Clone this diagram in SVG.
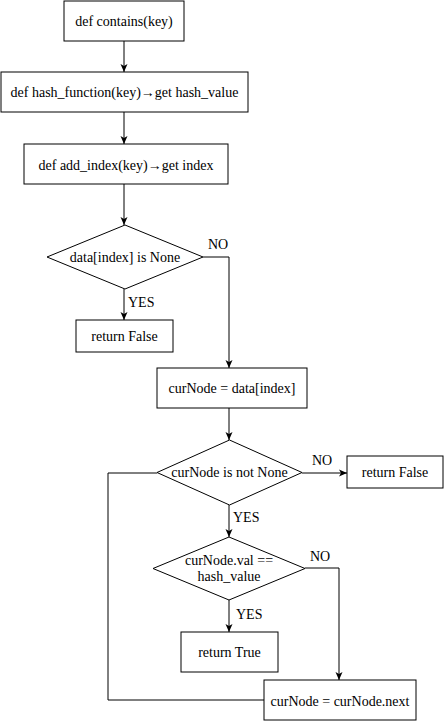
<svg xmlns="http://www.w3.org/2000/svg" width="444" height="721" viewBox="0 0 444 721">
<style>
.n{fill:#fff;stroke:#000;stroke-width:1}
.t{font-family:"Liberation Serif","Times New Roman",serif;font-size:14px;fill:#000;text-anchor:middle}
.l{font-family:"Liberation Serif","Times New Roman",serif;font-size:14px;fill:#000}
.c{fill:none;stroke:#000;stroke-width:1}
</style>
<defs>
<marker id="a" viewBox="0 0 8 8" refX="8" refY="4" markerWidth="8" markerHeight="8" markerUnits="userSpaceOnUse" orient="auto">
<path d="M0,0.5 L8,4 L0,7.5 L2,4 Z" fill="#000"/>
</marker>
</defs>
<rect width="444" height="721" fill="#fff"/>
<g id="connectors">
<path class="c" d="M124,41 V72" marker-end="url(#a)"/>
<path class="c" d="M124,112 V144" marker-end="url(#a)"/>
<path class="c" d="M124,184 V225" marker-end="url(#a)"/>
<path class="c" d="M124,289 V320" marker-end="url(#a)"/>
<path class="c" d="M203,257 H229 V368" marker-end="url(#a)"/>
<path class="c" d="M229,408 V440" marker-end="url(#a)"/>
<path class="c" d="M302,473 H347" marker-end="url(#a)"/>
<path class="c" d="M229,505 V537" marker-end="url(#a)"/>
<path class="c" d="M229,600 V632" marker-end="url(#a)"/>
<path class="c" d="M305,568 H339 V680" marker-end="url(#a)"/>
<path class="c" d="M157,473 H108 V700 H264"/>
<text class="l" x="208" y="249">NO</text>
<text class="l" x="128" y="307">YES</text>
<text class="l" x="312" y="465">NO</text>
<text class="l" x="233" y="522">YES</text>
<text class="l" x="310" y="561">NO</text>
<text class="l" x="236" y="619">YES</text>
</g>
<g id="n1"><rect class="n" x="64" y="1" width="120" height="40"/><text class="t" x="124" y="26">def contains(key)</text></g>
<g id="n2"><rect class="n" x="1" y="72" width="247" height="40"/><text class="t" x="124.5" y="97">def hash_function(key)→get hash_value</text></g>
<g id="n3"><rect class="n" x="24" y="144" width="204" height="40"/><text class="t" x="126" y="170">def add_index(key)→get index</text></g>
<g id="n4"><path class="n" d="M125,225 L203,257 L125,289 L47,257 Z"/><text class="t" x="125" y="262">data[index] is None</text></g>
<g id="n5"><rect class="n" x="76" y="320" width="97" height="32"/><text class="t" x="124.5" y="341">return False</text></g>
<g id="n6"><rect class="n" x="157" y="368" width="150" height="40"/><text class="t" x="232" y="393">curNode = data[index]</text></g>
<g id="n7"><path class="n" d="M229.5,440 L302,472.5 L229.5,505 L157,472.5 Z"/><text class="t" x="229.5" y="477">curNode is not None</text></g>
<g id="n8"><rect class="n" x="347" y="456" width="96" height="32"/><text class="t" x="395" y="477">return False</text></g>
<g id="n9"><path class="n" d="M229,537 L305,568.5 L229,600 L153,568.5 Z"/><text class="t" x="229" y="565">curNode.val ==</text><text class="t" x="229" y="581">hash_value</text></g>
<g id="n10"><rect class="n" x="181" y="632" width="97" height="40"/><text class="t" x="229.5" y="657">return True</text></g>
<g id="n11"><rect class="n" x="264" y="680" width="152" height="40"/><text class="t" x="340" y="706">curNode = curNode.next</text></g>
</svg>
